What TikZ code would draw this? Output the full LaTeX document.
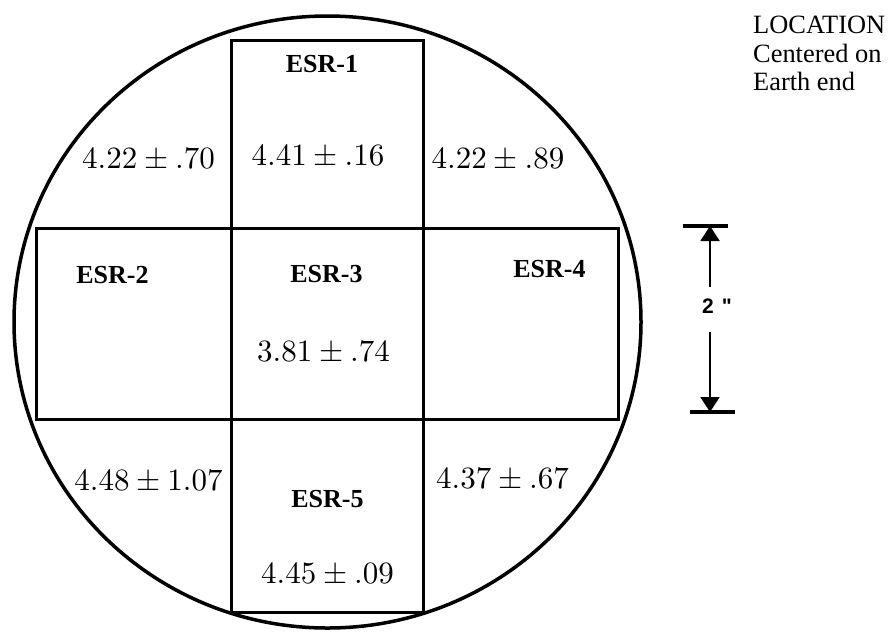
\documentclass[tikz,border=0pt]{standalone}
\usepackage{fontspec}
\usepackage{graphicx}
\setmainfont{Liberation Serif}[BoldFont={Liberation Serif Bold}]
\newfontfamily\dimfont{Liberation Sans}
\newfontfamily\locfont{Liberation Serif}
\newfontfamily\esrfont{Liberation Serif Bold}
\usetikzlibrary{arrows.meta,shapes.geometric}
\newcommand{\pmval}[1]{\scalebox{3.1}{$#1$}}
\tikzset{
  val/.style={anchor=base, inner sep=0pt},
  esrlbl/.style={anchor=base, inner sep=0pt, font=\fontsize{26}{26}\esrfont},
  loctxt/.style={anchor=base west, inner sep=0pt, font=\fontsize{26.4}{28}\locfont},
  frame/.style={draw, line width=3pt, inner sep=0pt},
  dimarrow/.style={line width=2pt, -{Triangle[width=19pt,length=15pt]}},
  dimbar/.style={line width=4pt},
}
\begin{document}
\begin{tikzpicture}[x=1pt,y=-1pt]
\useasboundingbox (0,0) rectangle (893,633);
% wafer outline
\node[draw, ellipse, line width=3.5pt, inner sep=0pt, minimum width=627pt, minimum height=612pt] (wafer) at (327.5,322) {};
% vertical and horizontal strips
\node[frame, minimum width=192pt, minimum height=572pt] (vrect) at (327,326) {};
\node[frame, minimum width=582pt, minimum height=191pt] (hrect) at (327,323.5) {};
% labels
\node[esrlbl] (esr1) at (322,72) {ESR-1};
\node[esrlbl] (esr2) at (112.5,283) {ESR-2};
\node[esrlbl] (esr3) at (326.5,282) {ESR-3};
\node[esrlbl] (esr4) at (549.5,277) {ESR-4};
\node[esrlbl] (esr5) at (327.5,507) {ESR-5};
% values
\node[val] (v1) at (148.5,168) {\pmval{4.22\pm.70}};
\node[val] (v2) at (318,165) {\pmval{4.41\pm.16}};
\node[val] (v3) at (498,168) {\pmval{4.22\pm.89}};
\node[val] (v4) at (323.5,361) {\pmval{3.81\pm.74}};
\node[val] (v5) at (148.5,490) {\pmval{4.48\pm1.07}};
\node[val] (v6) at (502.5,488) {\pmval{4.37\pm.67}};
\node[val] (v7) at (327.5,583) {\pmval{4.45\pm.09}};
% location note
\node[loctxt] (loc1) at (753,33) {LOCATION};
\node[loctxt] (loc2) at (753,62) {Centered on};
\node[loctxt] (loc3) at (753,90) {Earth end};
% dimension
\coordinate (t1) at (683,226);
\coordinate (t2) at (728,226);
\coordinate (tm) at (710,226);
\coordinate (b1) at (690,412);
\coordinate (b2) at (735,412);
\coordinate (bm) at (710,412);
\coordinate (ts) at (710,287);
\coordinate (bs) at (710,332);
\draw[dimbar] (t1) -- (t2);
\draw[dimbar] (b1) -- (b2);
\node[anchor=base west, inner sep=0pt, font=\fontsize{21}{22}\dimfont\bfseries] (dim) at (702,313) {2\hspace{8pt}"};
\draw[dimarrow] (ts) -- (tm);
\draw[dimarrow] (bs) -- (bm);
\end{tikzpicture}
\end{document}
